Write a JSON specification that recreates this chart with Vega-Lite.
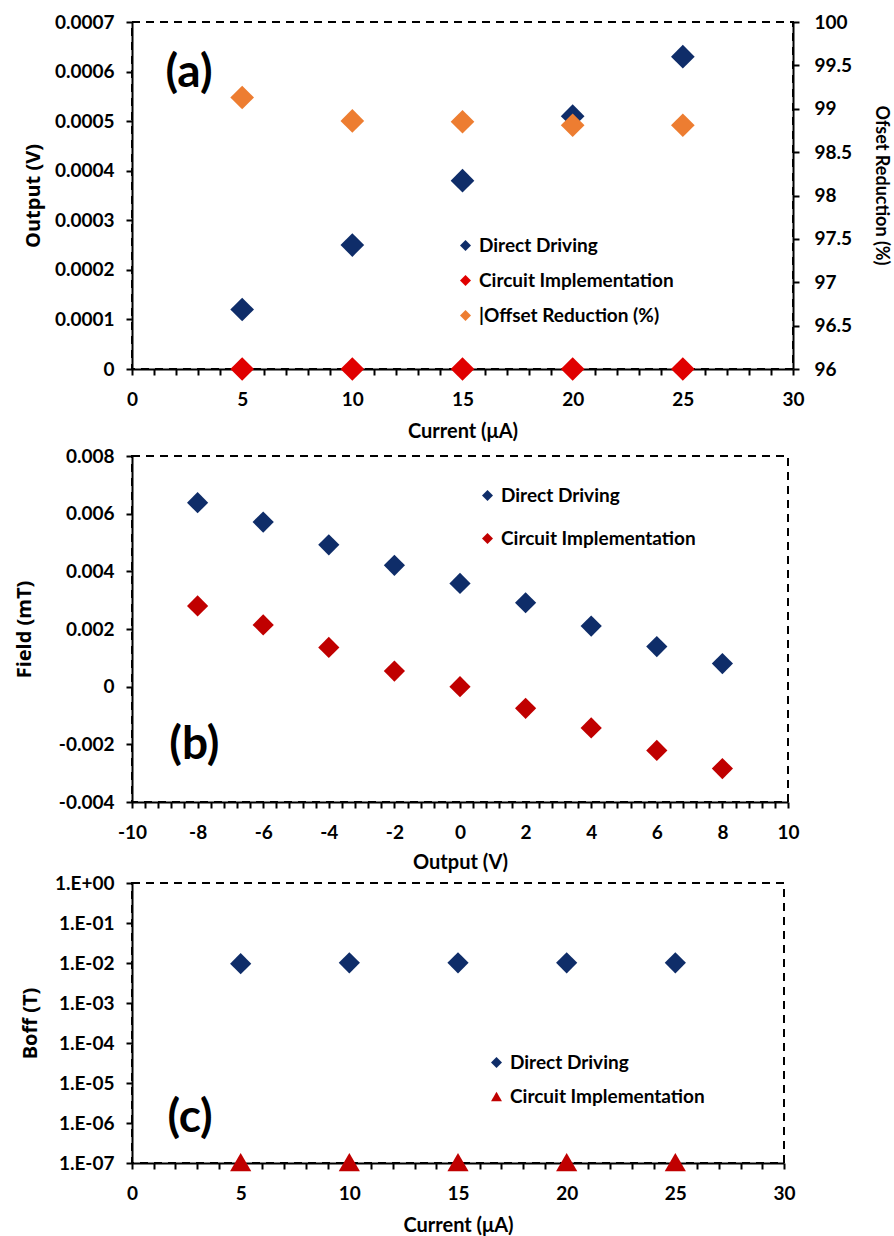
{
  "$schema": "https://vega.github.io/schema/vega-lite/v6.json",
  "padding": {"left": 13, "top": 12, "right": 6, "bottom": 0},
  "spacing": 0,
  "resolve": {"scale": {"color": "independent", "shape": "independent"}},
  "config": {
    "font": "Lato",
    "view": {"stroke": "black", "strokeWidth": 2, "strokeDash": [8, 6]},
    "axis": {
      "grid": false, "domainColor": "black", "domainWidth": 2, "tickColor": "black", "tickWidth": 2, "tickSize": 6, "tickCount": 200,
      "labelFont": "Lato", "labelFontSize": 19, "labelFontWeight": "bold", "labelColor": "black", "labelPadding": 12,
      "labelFlush": false, "labelOverlap": false,
      "titleColor": "black", "titleFontWeight": "bold", "titleFontSize": 17
    },
    "axisX": {"labelPadding": 15, "titleFontSize": 20, "titlePadding": 12, "titleFont": "Lato"},
    "axisLeft": {"titleFont": "Open Sans", "titleFontSize": 20},
    "legend": {
      "title": null, "labelFont": "Lato", "labelFontSize": 19, "labelFontWeight": "bold", "labelColor": "black", "labelLimit": 400,
      "symbolType": "diamond", "symbolSize": 120, "symbolStrokeWidth": 0, "padding": 0, "labelOffset": 4
    }
  },
  "vconcat": [
    {
      "width": 661, "height": 347,
      "data": {"values": [
        {"current": 5, "series": "Direct Driving", "kind": "output", "value": 0.00012},
        {"current": 10, "series": "Direct Driving", "kind": "output", "value": 0.00025},
        {"current": 15, "series": "Direct Driving", "kind": "output", "value": 0.00038},
        {"current": 20, "series": "Direct Driving", "kind": "output", "value": 0.00051},
        {"current": 25, "series": "Direct Driving", "kind": "output", "value": 0.00063},
        {"current": 5, "series": "Circuit Implementation", "kind": "output", "value": 0},
        {"current": 10, "series": "Circuit Implementation", "kind": "output", "value": 0},
        {"current": 15, "series": "Circuit Implementation", "kind": "output", "value": 0},
        {"current": 20, "series": "Circuit Implementation", "kind": "output", "value": 0},
        {"current": 25, "series": "Circuit Implementation", "kind": "output", "value": 0},
        {"current": 5, "series": "|Offset Reduction (%)", "kind": "reduction", "value": 99.13},
        {"current": 10, "series": "|Offset Reduction (%)", "kind": "reduction", "value": 98.86},
        {"current": 15, "series": "|Offset Reduction (%)", "kind": "reduction", "value": 98.85},
        {"current": 20, "series": "|Offset Reduction (%)", "kind": "reduction", "value": 98.81},
        {"current": 25, "series": "|Offset Reduction (%)", "kind": "reduction", "value": 98.81},
        {"current": 2.59, "kind": "label", "value": 0.000597, "text": "(a)"}
      ]},
      "layer": [
        {
          "transform": [{"filter": "datum.kind == 'output'"}],
          "mark": {"type": "point", "shape": "diamond", "filled": true, "size": 560, "opacity": 1},
          "encoding": {
            "x": {"field": "current", "type": "quantitative", "scale": {"domain": [0, 30], "nice": false},
                  "axis": {"title": "Current (μA)", "tickCount": 200, "values": [0,1,2,3,4,5,6,7,8,9,10,11,12,13,14,15,16,17,18,19,20,21,22,23,24,25,26,27,28,29,30],
                           "labelExpr": "datum.value % 5 == 0 ? '' + datum.value : ''", "labelOverlap": false, "labelFlush": false}},
            "y": {"field": "value", "type": "quantitative", "scale": {"domain": [0, 0.0007], "nice": false},
                  "axis": {"title": "Output (V)", "titleFont": "Open Sans", "tickCount": 200, "values": [0,0.0001,0.0002,0.0003,0.0004,0.0005,0.0006,0.0007],
                           "labelExpr": "'' + datum.value", "titlePadding": 11, "labelOverlap": false}},
            "color": {"field": "series", "type": "nominal",
                      "scale": {"domain": ["Direct Driving", "Circuit Implementation", "|Offset Reduction (%)"], "range": ["#0F2D69", "#E00000", "#ED7D31"]},
                      "legend": {"orient": "none", "legendX": 324, "legendY": 214, "rowPadding": 15}}
          }
        },
        {
          "transform": [{"filter": "datum.kind == 'reduction'"}],
          "mark": {"type": "point", "shape": "diamond", "filled": true, "size": 560, "opacity": 1},
          "encoding": {
            "x": {"field": "current", "type": "quantitative"},
            "y": {"field": "value", "type": "quantitative", "scale": {"domain": [96, 100], "nice": false},
                  "axis": {"orient": "right", "title": "Ofset Reduction (%)", "titleFont": "Lato", "titleFontSize": 18, "titleY": 163, "tickCount": 200, "values": [96,96.5,97,97.5,98,98.5,99,99.5,100],
                           "labelExpr": "'' + datum.value", "labelPadding": 15, "titlePadding": 20, "labelOverlap": false}},
            "color": {"field": "series", "type": "nominal"}
          }
        },
        {
          "transform": [{"filter": "datum.kind == 'label'"}],
          "mark": {"type": "text", "font": "Lato", "fontSize": 46, "fontWeight": "bold", "color": "black", "align": "center", "baseline": "middle"},
          "encoding": {
            "x": {"field": "current", "type": "quantitative"},
            "y": {"field": "value", "type": "quantitative", "scale": {"domain": [0, 0.0007], "nice": false}, "axis": null},
            "text": {"field": "text"}
          }
        }
      ],
      "resolve": {"scale": {"y": "independent"}}
    },
    {
      "width": 656, "height": 346,
      "title": {"text": " ", "fontSize": 1, "offset": 3},
      "data": {"values": [
        {"output": -8, "series": "Direct Driving", "field": 0.00638},
        {"output": -6, "series": "Direct Driving", "field": 0.00571},
        {"output": -4, "series": "Direct Driving", "field": 0.00492},
        {"output": -2, "series": "Direct Driving", "field": 0.00421},
        {"output": 0, "series": "Direct Driving", "field": 0.00358},
        {"output": 2, "series": "Direct Driving", "field": 0.00291},
        {"output": 4, "series": "Direct Driving", "field": 0.0021},
        {"output": 6, "series": "Direct Driving", "field": 0.00139},
        {"output": 8, "series": "Direct Driving", "field": 0.0008},
        {"output": -8, "series": "Circuit Implementation", "field": 0.0028},
        {"output": -6, "series": "Circuit Implementation", "field": 0.00214},
        {"output": -4, "series": "Circuit Implementation", "field": 0.00136},
        {"output": -2, "series": "Circuit Implementation", "field": 0.00054},
        {"output": 0, "series": "Circuit Implementation", "field": 0.0},
        {"output": 2, "series": "Circuit Implementation", "field": -0.00075},
        {"output": 4, "series": "Circuit Implementation", "field": -0.00143},
        {"output": 6, "series": "Circuit Implementation", "field": -0.00221},
        {"output": 8, "series": "Circuit Implementation", "field": -0.00284},
        {"output": -8.1, "field": -0.00203, "text": "(b)"}
      ]},
      "layer": [
        {
          "transform": [{"filter": "isValid(datum.series)"}],
          "mark": {"type": "point", "shape": "diamond", "filled": true, "size": 450, "opacity": 1},
          "encoding": {
            "x": {"field": "output", "type": "quantitative", "scale": {"domain": [-10, 10], "nice": false},
                  "axis": {"title": "Output (V)", "titlePadding": 10, "tickCount": 200,
                           "values": [-10,-9.6,-9.2,-8.8,-8.4,-8,-7.6,-7.2,-6.8,-6.4,-6,-5.6,-5.2,-4.8,-4.4,-4,-3.6,-3.2,-2.8,-2.4,-2,-1.6,-1.2,-0.8,-0.4,0,0.4,0.8,1.2,1.6,2,2.4,2.8,3.2,3.6,4,4.4,4.8,5.2,5.6,6,6.4,6.8,7.2,7.6,8,8.4,8.8,9.2,9.6,10],
                           "labelExpr": "abs(datum.value % 2) < 0.001 ? '' + datum.value : ''", "labelOverlap": false, "labelFlush": false}},
            "y": {"field": "field", "type": "quantitative", "scale": {"domain": [-0.004, 0.008], "nice": false},
                  "axis": {"title": "Field (mT)", "titleFont": "Open Sans", "tickCount": 200, "values": [-0.004,-0.002,0,0.002,0.004,0.006,0.008],
                           "labelExpr": "'' + datum.value", "titlePadding": 24, "labelOverlap": false}},
            "color": {"field": "series", "type": "nominal",
                      "scale": {"domain": ["Direct Driving", "Circuit Implementation"], "range": ["#0F2D69", "#C00000"]},
                      "legend": {"orient": "none", "legendX": 346, "legendY": 30, "rowPadding": 23}}
          }
        },
        {
          "transform": [{"filter": "!isValid(datum.series)"}],
          "mark": {"type": "text", "font": "Lato", "fontSize": 46, "fontWeight": "bold", "color": "black", "align": "center", "baseline": "middle"},
          "encoding": {
            "x": {"field": "output", "type": "quantitative"},
            "y": {"field": "field", "type": "quantitative"},
            "text": {"field": "text"}
          }
        }
      ]
    },
    {
      "width": 652, "height": 280,
      "data": {"values": [
        {"current": 5, "series": "Direct Driving", "boff": 0.0096},
        {"current": 10, "series": "Direct Driving", "boff": 0.0101},
        {"current": 15, "series": "Direct Driving", "boff": 0.0101},
        {"current": 20, "series": "Direct Driving", "boff": 0.0101},
        {"current": 25, "series": "Direct Driving", "boff": 0.0101},
        {"current": 5, "series": "Circuit Implementation", "boff": 1.05e-7},
        {"current": 10, "series": "Circuit Implementation", "boff": 1.05e-7},
        {"current": 15, "series": "Circuit Implementation", "boff": 1.05e-7},
        {"current": 20, "series": "Circuit Implementation", "boff": 1.05e-7},
        {"current": 25, "series": "Circuit Implementation", "boff": 1.05e-7},
        {"current": 2.67, "boff": 1.35e-6, "text": "(c)"}
      ]},
      "layer": [
        {
          "transform": [{"filter": "isValid(datum.series)"}],
          "mark": {"type": "point", "filled": true, "size": 450, "opacity": 1},
          "encoding": {
            "x": {"field": "current", "type": "quantitative", "scale": {"domain": [0, 30], "nice": false},
                  "axis": {"title": "Current (μA)", "tickCount": 200, "values": [0,1,2,3,4,5,6,7,8,9,10,11,12,13,14,15,16,17,18,19,20,21,22,23,24,25,26,27,28,29,30],
                           "labelExpr": "datum.value % 5 == 0 ? '' + datum.value : ''", "labelOverlap": false, "labelFlush": false}},
            "y": {"field": "boff", "type": "quantitative", "scale": {"type": "log", "domain": [1e-7, 1], "nice": false},
                  "axis": {"title": "Boff (T)", "titleFont": "Open Sans", "tickCount": 200, "values": [1e-7,1e-6,1e-5,1e-4,1e-3,1e-2,1e-1,1],
                           "labelExpr": "'1.E' + (datum.value < 0.5 ? '-' : '+') + (abs(round(log(datum.value)/LN10)) < 10 ? '0' : '') + abs(round(log(datum.value)/LN10))",
                           "titlePadding": 14, "labelOverlap": false}},
            "color": {"field": "series", "type": "nominal",
                      "scale": {"domain": ["Direct Driving", "Circuit Implementation"], "range": ["#0F2D69", "#C00000"]},
                      "legend": {"orient": "none", "legendX": 355, "legendY": 170, "rowPadding": 14}},
            "shape": {"field": "series", "type": "nominal",
                      "scale": {"domain": ["Direct Driving", "Circuit Implementation"], "range": ["diamond", "triangle-up"]}}
          }
        },
        {
          "transform": [{"filter": "!isValid(datum.series)"}],
          "mark": {"type": "text", "font": "Lato", "fontSize": 46, "fontWeight": "bold", "color": "black", "align": "center", "baseline": "middle"},
          "encoding": {
            "x": {"field": "current", "type": "quantitative"},
            "y": {"field": "boff", "type": "quantitative"},
            "text": {"field": "text"}
          }
        }
      ]
    }
  ]
}
